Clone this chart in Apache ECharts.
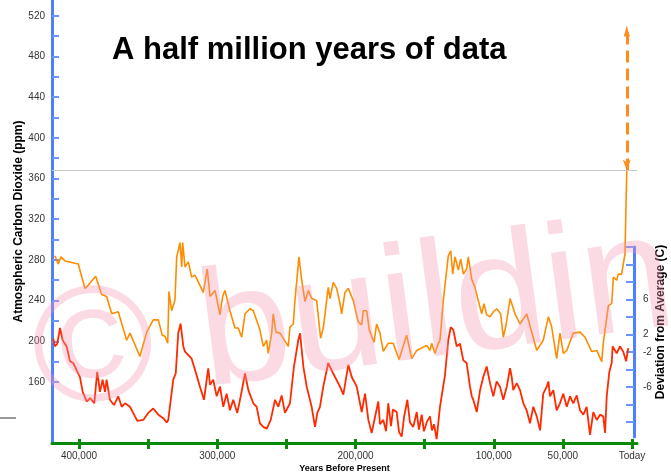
<!DOCTYPE html>
<html>
<head>
<meta charset="utf-8">
<style type="text/css">
html, body {margin: 0; padding: 0; background: #fff;}
#chart {width: 671px; height: 476px;}
</style>
</head>
<body>
<div id="chart"></div>
<script src="https://cdn.jsdelivr.net/npm/echarts@6/dist/echarts.min.js"></script>
<script type="text/javascript">
// ages in thousands of years before present
var co2Age = [417.4, 415.0, 413.0, 410.1, 400.5, 395.7, 394.0, 387.9, 383.6, 380.0, 376.3, 371.6, 365.5, 363.1, 355.9,
    351.0, 346.3, 342.6, 339.8, 337.8, 335.8, 334.9, 333.0, 330.6, 329.3, 326.9, 325.7, 325.0, 323.3, 320.9,
    318.5, 316.1, 312.5, 310.1, 307.2, 305.2, 301.6, 298.0, 296.1, 294.4, 290.8, 287.2, 284.8, 282.3, 279.9,
    276.3, 273.9, 269.1, 266.7, 264.2, 263.1, 260.6, 259.5, 257.5, 254.6, 248.6, 247.4, 245.0, 243.8, 240.9,
    238.9, 236.5, 234.1, 231.7, 228.1, 225.2, 223.3, 219.7, 218.4, 216.1, 213.6, 211.2, 210.0, 207.6, 205.2,
    201.6, 198.0, 195.5, 194.4, 191.9, 190.0, 186.6, 184.7, 182.3, 179.9, 176.3, 172.7, 168.5, 163.0, 159.3,
    155.7, 148.5, 146.1, 144.9, 142.5, 140.1, 138.9, 136.5, 132.9, 131.1, 129.7, 128.0, 125.6, 123.9, 122.0,
    119.6, 118.4, 115.9, 113.6, 111.2, 108.7, 107.1, 105.1, 102.7, 100.3, 97.9, 95.0, 93.1, 91.1, 88.2,
    84.6, 81.0, 76.2, 68.9, 64.2, 60.5, 58.1, 54.5, 52.1, 49.7, 47.2, 42.5, 37.6, 34.0, 29.2,
    25.5, 21.9, 20.8, 17.1, 14.7, 13.5, 11.1, 9.9, 7.5, 6.3, 5.1, 3.8];
var co2Ppm = [284, 276, 283, 279, 276, 252, 254, 264, 246, 244, 227, 229, 201, 208, 185,
    209, 221, 221, 206, 205, 198, 249, 230, 240, 283, 297, 273, 297, 273, 278,
    263, 265, 255, 248, 271, 244, 250, 226, 244, 250, 230, 213, 213, 204, 227,
    232, 230, 211, 195, 201, 188, 208, 227, 209, 208, 195, 214, 217, 240, 283,
    260, 239, 250, 242, 240, 203, 213, 253, 242, 258, 252, 237, 227, 248, 252,
    240, 219, 216, 230, 230, 211, 199, 217, 208, 190, 198, 198, 182, 206, 183,
    191, 196, 191, 198, 188, 198, 201, 240, 284, 289, 266, 283, 270, 281, 266,
    271, 283, 261, 253, 240, 227, 237, 226, 224, 229, 232, 227, 204, 216, 242,
    227, 217, 227, 191, 201, 224, 214, 183, 208, 188, 191, 208, 209, 204, 190,
    191, 180, 198, 235, 237, 263, 260, 266, 266, 276, 286, 368];

var tempAge = [418.6, 417.4, 415.7, 413.7, 411.8, 408.9, 406.5, 404.1, 401.7, 399.3, 397.3, 394.4, 392.0, 388.9, 386.8,
    384.8, 382.9, 381.2, 380.0, 377.6, 374.7, 371.6, 369.1, 366.7, 363.1, 359.5, 357.8, 353.5, 349.9, 346.3,
    342.6, 339.0, 336.6, 335.4, 331.8, 330.0, 328.2, 326.5, 324.5, 323.3, 322.1, 318.5, 314.9, 312.5, 309.6,
    306.5, 305.2, 302.9, 300.4, 298.0, 295.6, 293.2, 290.8, 288.4, 285.5, 283.0, 279.9, 277.5, 273.9, 271.5,
    269.1, 266.7, 264.2, 261.3, 258.2, 255.8, 253.4, 251.0, 247.4, 244.5, 241.4, 240.1, 237.7, 235.3, 231.7,
    229.3, 227.6, 225.7, 223.3, 219.7, 216.1, 211.2, 208.8, 205.2, 202.7, 199.1, 195.5, 193.1, 190.7, 188.3,
    183.5, 182.3, 179.9, 177.9, 176.3, 174.3, 172.9, 170.2, 168.5, 166.6, 164.9, 162.5, 160.6, 158.2, 155.7,
    154.1, 152.1, 150.5, 148.3, 146.1, 144.7, 143.2, 141.3, 138.9, 135.3, 132.9, 131.1, 129.3, 126.8, 124.4,
    122.0, 119.6, 117.2, 115.9, 114.8, 112.3, 109.9, 107.6, 105.1, 102.7, 100.3, 97.9, 95.5, 93.1, 90.6,
    88.2, 87.0, 85.9, 83.4, 81.0, 78.6, 76.2, 73.8, 71.4, 68.9, 66.5, 64.2, 61.7, 60.5, 59.3,
    56.9, 54.5, 52.1, 49.7, 47.2, 44.8, 42.5, 40.0, 37.6, 35.2, 32.8, 30.4, 28.0, 25.5, 23.1,
    20.8, 19.5, 18.3, 16.4, 14.7, 14.0, 11.1, 8.7, 6.3, 4.3, 2.7];
var tempDev = [1.6, 0.7, 1.0, 2.8, 1.4, 0.7, -1.0, -1.2, -2.0, -2.8, -4.5, -5.6, -5.2, -5.8, -2.2,
    -4.5, -3.1, -4.5, -3.1, -5.4, -6.0, -5.0, -6.2, -5.8, -6.2, -7.3, -7.8, -7.7, -6.9, -6.4,
    -7.1, -7.5, -8.0, -7.7, -3.1, -2.4, 2.2, 3.3, 0.7, 0.1, 0.1, -0.7, -2.6, -3.9, -5.4,
    -1.8, -3.7, -3.1, -5.0, -3.9, -6.2, -4.7, -6.6, -5.4, -6.9, -5.0, -2.4, -4.3, -5.8, -6.2,
    -8.1, -8.5, -8.7, -7.7, -5.4, -6.2, -4.9, -6.9, -5.8, -1.6, 1.4, 2.2, -1.6, -3.9, -6.2,
    -8.5, -6.9, -6.2, -3.9, -1.2, -2.4, -3.9, -4.8, -1.4, -2.8, -3.9, -6.8, -4.7, -7.7, -9.2,
    -5.6, -8.2, -7.7, -9.0, -5.8, -8.4, -6.5, -6.8, -9.1, -9.6, -7.4, -5.4, -8.0, -8.5, -6.8,
    -8.8, -7.1, -9.0, -7.9, -7.3, -8.9, -8.2, -9.9, -6.2, -2.6, 1.4, 2.9, 2.6, 0.7, 1.0,
    -0.9, -1.2, -3.9, -5.0, -5.4, -6.8, -4.3, -2.8, -1.6, -3.5, -5.0, -3.3, -3.9, -5.4, -3.9,
    -1.8, -2.8, -4.3, -3.5, -4.3, -5.8, -6.6, -8.1, -6.2, -7.3, -8.9, -4.7, -3.9, -3.3, -5.0,
    -4.3, -6.6, -5.8, -4.7, -6.2, -5.0, -5.8, -4.9, -6.6, -7.1, -6.2, -9.4, -6.8, -7.7, -7.1,
    -7.3, -9.2, -5.0, -2.2, -1.2, 0.7, -0.1, 0.7, 0.1, -1.0, 0.5];

var yearTicks = [0, 50, 100, 150, 200, 250, 300, 350, 400];
var yearLabels = [0, 50, 100, 200, 300, 400];
var ppmTicks = [160, 180, 200, 220, 240, 260, 280, 300, 320, 340, 360, 380, 400, 420, 440, 460, 480, 500, 520];
var ppmLabels = [160, 200, 240, 280, 320, 360, 400, 440, 480, 520];
var devTicks = [12, 10, 8, 6, 4, 2, 0, -2, -4, -6, -8];
// the right axis labels sit unevenly on its ticks in the source picture
var devLabelAt = [6, 2, 0, -4];
var devLabelText = ['6', '2', '-2', '-6'];
var ppmToday = 368;
var ppmProjected = 505;

var blue = '#4d7fff';
var green = '#0a8a0a';
var font = '"Liberation Sans", Arial, sans-serif';

var chart = echarts.init(document.getElementById('chart'));

var option = {
    animation: false,
    backgroundColor: '#fff',
    title: {
        text: 'A half million years of data',
        left: 112,
        top: 35,
        padding: 0,
        textStyle: {fontSize: 31, fontWeight: 'bold', color: '#000', fontFamily: font}
    },
    grid: [
        {left: 52, right: 34, top: 0, bottom: 33, containLabel: false, outerBoundsMode: 'none'},
        {left: 52, right: 37, top: 247, bottom: 39, containLabel: false, outerBoundsMode: 'none'}
    ],
    xAxis: [
        {
            gridIndex: 0, type: 'value', position: 'bottom', inverse: true,
            min: -3.6, max: 419.5,
            axisLine: {onZero: false, lineStyle: {color: green, width: 3}},
            axisTick: {customValues: yearTicks, length: 6, lineStyle: {color: green, width: 3}},
            axisLabel: {
                customValues: yearLabels, margin: 8, fontSize: 10, color: '#333', fontFamily: font,
                formatter: function (v) {
                    return v === 0 ? 'Today' : (v * 1000).toLocaleString('en-US');
                }
            },
            splitLine: {show: false},
            name: 'Years Before Present', nameLocation: 'middle', nameGap: 21, nameMoveOverlap: false,
            nameTextStyle: {fontSize: 9, fontWeight: 'bold', color: '#000', fontFamily: font}
        },
        {
            gridIndex: 0, type: 'value', position: 'bottom', inverse: true,
            min: -3.6, max: 419.5,
            axisLine: {show: false, onZero: false},
            axisTick: {customValues: yearTicks, inside: true, length: 4, lineStyle: {color: green, width: 3}},
            axisLabel: {show: false},
            splitLine: {show: false}
        },
        {gridIndex: 1, type: 'value', show: false, min: 0, max: 1}
    ],
    yAxis: [
        {
            gridIndex: 0, type: 'value', position: 'left', min: 100, max: 535.5,
            axisLine: {onZero: false, lineStyle: {color: blue, width: 3}},
            axisTick: {customValues: ppmTicks, inside: true, length: 7, lineStyle: {color: '#6b95ff', width: 2}},
            axisLabel: {customValues: ppmLabels, margin: 7, fontSize: 10, color: '#333', fontFamily: font},
            splitLine: {show: false},
            name: 'Atmospheric Carbon Dioxide (ppm)', nameLocation: 'middle', nameGap: 27, nameRotate: 90,
            nameMoveOverlap: false,
            nameTextStyle: {fontSize: 12, fontWeight: 'bold', color: '#000', fontFamily: font}
        },
        {gridIndex: 0, type: 'value', position: 'right', show: false, min: -10.34, max: 40.29,
            axisLine: {onZero: false}},
        {
            gridIndex: 1, type: 'value', position: 'right', min: -9.7, max: 12,
            axisLine: {onZero: false, lineStyle: {color: blue, width: 3}},
            axisTick: {customValues: devTicks, inside: true, length: 8, lineStyle: {color: '#6b95ff', width: 2}},
            axisLabel: {
                customValues: devLabelAt, margin: 9, fontSize: 10, color: '#333', fontFamily: font,
                formatter: function (v) {
                    return devLabelText[devLabelAt.indexOf(v)];
                }
            },
            splitLine: {show: false},
            name: 'Deviation from Average (C)', nameLocation: 'middle', nameGap: 21, nameRotate: 90,
            nameMoveOverlap: false,
            nameTextStyle: {fontSize: 12, fontWeight: 'bold', color: '#000', fontFamily: font, padding: [0, 0, 0, 40]}
        }
    ],
    series: [
        {
            name: 'CO2', type: 'line', xAxisIndex: 0, yAxisIndex: 0,
            showSymbol: false, silent: true,
            lineStyle: {color: '#ff8c00', width: 1.6},
            data: co2Age.map(function (a, i) { return [a, co2Ppm[i]]; }),
            markLine: {
                silent: true,
                label: {show: false},
                symbol: ['arrow', 'triangle'],
                symbolSize: [6, 11],
                lineStyle: {color: '#ff8c1a', width: 3, type: [12, 6]},
                data: [
                    [
                        {coord: [co2Age[co2Age.length - 1], ppmToday]},
                        {coord: [co2Age[co2Age.length - 1], ppmProjected]}
                    ]
                ]
            }
        },
        {
            name: 'Today level', type: 'line', xAxisIndex: 0, yAxisIndex: 0,
            data: [], silent: true,
            markLine: {
                silent: true,
                symbol: 'none',
                label: {show: false},
                lineStyle: {color: '#c8c8c8', width: 1, type: 'solid'},
                data: [{yAxis: ppmToday}]
            }
        },
        {
            name: 'Temperature', type: 'line', xAxisIndex: 0, yAxisIndex: 1,
            showSymbol: false, silent: true,
            lineStyle: {color: '#ff2a00', width: 1.8},
            data: tempAge.map(function (a, i) { return [a, tempDev[i]]; })
        }
    ],
    graphic: [
        {
            type: 'text', x: 34, y: 363, rotation: 7.5 * Math.PI / 180, z: 100, silent: true,
            style: {
                text: '\u00a9 building',
                font: '165px "Liberation Sans", Arial, sans-serif',
                fill: 'rgba(245, 150, 175, 0.35)',
                align: 'left', verticalAlign: 'middle'
            }
        },
        {
            type: 'line', z: 100, silent: true,
            shape: {x1: 0, y1: 418, x2: 16, y2: 418},
            style: {stroke: '#333', lineWidth: 1}
        }
    ]
};

chart.setOption(option);
</script>
</body>
</html>
